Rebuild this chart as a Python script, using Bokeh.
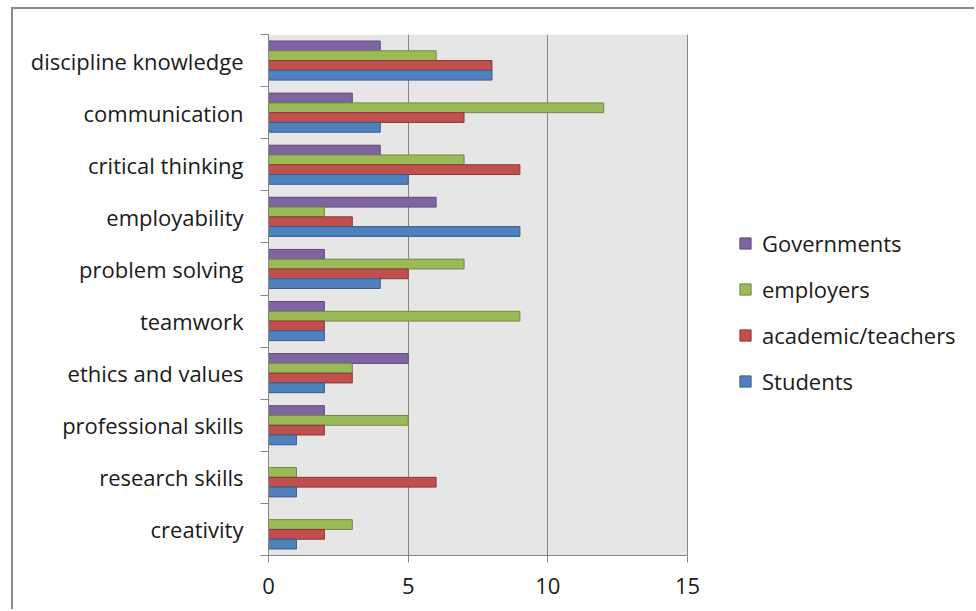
from bokeh.plotting import figure
from bokeh.models import Range1d, FixedTicker, Legend, LegendItem, ColumnDataSource, BoxAnnotation
from bokeh.transform import dodge
from bokeh.embed import file_html
from bokeh.resources import INLINE

categories = ["discipline knowledge", "communication", "critical thinking", "employability",
              "problem solving", "teamwork", "ethics and values", "professional skills",
              "research skills", "creativity"]
students = [8, 4, 5, 9, 4, 2, 2, 1, 1, 1]
academic = [8, 7, 9, 3, 5, 2, 3, 2, 6, 2]
employers = [6, 12, 7, 2, 7, 9, 3, 5, 1, 3]
governments = [4, 3, 4, 6, 2, 2, 5, 2, 0, 0]
x_ticks = [0, 5, 10, 15]

n = len(categories)
pos = [n - i - 0.5 for i in range(n)]
bounds = [float(i) for i in range(n + 1)]

src = ColumnDataSource(dict(pos=pos, cat=categories, students=students, academic=academic,
                            employers=employers, governments=governments))

FONT = "Open Sans"
FS = "22px"
GRID = "#878787"
TXT = "#1a1a1a"

W, LEFT = 963, 255
x_max = x_ticks[-1]
axis_px = 419  # pixel length of the 0..15 value axis
x_end = x_max * (W - LEFT) / axis_px

p = figure(width=W, height=602, x_range=Range1d(0, x_end), y_range=Range1d(0, n),
           output_backend="svg", toolbar_location=None,
           min_border_left=LEFT, min_border_right=0, min_border_top=25, min_border_bottom=56,
           background_fill_color="white", border_fill_color="white")
p.margin = (7, 0, 0, 11)
p.styles = {"border-left": "2px solid #8a8a8a", "border-top": "2px solid #8a8a8a"}
p.outline_line_color = None

# grey plot area over the value axis span
p.add_layout(BoxAnnotation(left=0, right=x_max, fill_color="#e6e6e6", fill_alpha=1,
                           line_color=None, level="image"))

bh = 0.1875
series = [
    ("Governments", "governments", "#8064A2", "#5E4A78", 1.5 * bh),
    ("employers", "employers", "#9BBB59", "#71893F", 0.5 * bh),
    ("academic/teachers", "academic", "#C0504D", "#8C3836", -0.5 * bh),
    ("Students", "students", "#4F81BD", "#385D8A", -1.5 * bh),
]
items = []
for label, col, fill, line, off in series:
    r = p.hbar(y=dodge("pos", off), left=0, right=col, height=bh, source=src,
               fill_color=fill, line_color=line, line_width=1)
    items.append(LegendItem(label=label, renderers=[r]))

p.xgrid.ticker = FixedTicker(ticks=x_ticks)
p.xgrid.grid_line_color = GRID
p.ygrid.grid_line_color = None

xa = p.xaxis[0]
xa.ticker = FixedTicker(ticks=x_ticks)
xa.bounds = (0, x_max)
xa.axis_line_color = GRID
xa.major_tick_line_color = GRID
xa.major_tick_out = 7
xa.major_tick_in = 0
xa.minor_tick_line_color = None
xa.major_label_text_font = FONT
xa.major_label_text_font_size = FS
xa.major_label_text_color = TXT
xa.major_label_standoff = 15

ya = p.yaxis[0]
ya.ticker = FixedTicker(ticks=pos, minor_ticks=bounds)
ya.major_label_overrides = {pv: c for pv, c in zip(pos, categories)}
ya.axis_line_color = GRID
ya.major_tick_line_color = None
ya.major_tick_out = 0
ya.major_tick_in = 0
ya.minor_tick_line_color = GRID
ya.minor_tick_out = 8
ya.minor_tick_in = 0
ya.major_label_text_font = FONT
ya.major_label_text_font_size = FS
ya.major_label_text_color = TXT
ya.major_label_standoff = 17

legend = Legend(items=items, location=(470, 159), orientation="vertical",
                border_line_color=None, background_fill_alpha=0,
                label_text_font=FONT, label_text_font_size=FS, label_text_color=TXT,
                glyph_width=14, glyph_height=14, label_standoff=10, spacing=16,
                padding=0, margin=0)
p.add_layout(legend, "center")

open("out.html", "w").write(file_html(p, INLINE))
